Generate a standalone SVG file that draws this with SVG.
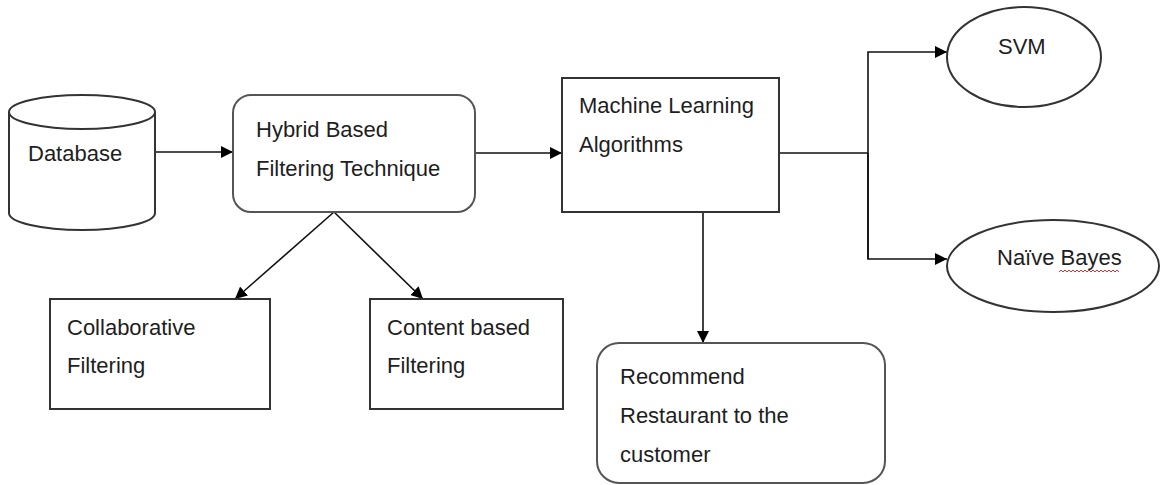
<svg xmlns="http://www.w3.org/2000/svg" width="1162" height="485" viewBox="0 0 1162 485">
<style>
.t{font-family:"Liberation Sans",Arial,sans-serif;font-size:22px;fill:#1e1e1e}
.sh{fill:#fff;stroke:#333;stroke-width:2}
.rr{fill:#fff;stroke:#555;stroke-width:2}
.c{fill:none;stroke:#111;stroke-width:1.6}
</style>
<defs>
<marker id="ah" viewBox="0 0 12 12" refX="12" refY="6" markerWidth="12" markerHeight="12" markerUnits="userSpaceOnUse" orient="auto">
<path d="M0,0 L12,6 L0,12 z" fill="#000"/>
</marker>
</defs>
<rect width="1162" height="485" fill="#fff"/>
<g id="connectors">
<line class="c" x1="155" y1="152" x2="233" y2="152" marker-end="url(#ah)"/>
<line class="c" x1="475" y1="153" x2="562" y2="153" marker-end="url(#ah)"/>
<line class="c" x1="334" y1="212" x2="235" y2="299" marker-end="url(#ah)"/>
<line class="c" x1="334" y1="212" x2="423" y2="299" marker-end="url(#ah)"/>
<line class="c" x1="703" y1="212" x2="703" y2="343" marker-end="url(#ah)"/>
<polyline class="c" points="779,153 868,153"/>
<polyline class="c" points="868,259 868,52 947,52" marker-end="url(#ah)"/>
<polyline class="c" points="868,153 868,259 947,259" marker-end="url(#ah)"/>
</g>
<g id="database">
<path class="sh" d="M9,112 L9,213 A73,17 0 0 0 155,213 L155,112"/>
<ellipse class="sh" cx="82" cy="112" rx="73" ry="17"/>
<text class="t" x="28" y="161">Database</text>
</g>
<g id="hybrid">
<rect class="rr" x="233" y="95" width="242" height="117" rx="18"/>
<text class="t" x="256" y="137">Hybrid Based</text>
<text class="t" x="256" y="176">Filtering Technique</text>
</g>
<g id="ml">
<rect class="sh" x="562" y="78" width="217" height="134"/>
<text class="t" x="579" y="113">Machine Learning</text>
<text class="t" x="579" y="152">Algorithms</text>
</g>
<g id="collaborative">
<rect class="sh" x="50" y="299" width="220" height="110"/>
<text class="t" x="67" y="335">Collaborative</text>
<text class="t" x="67" y="373">Filtering</text>
</g>
<g id="content">
<rect class="sh" x="370" y="299" width="193" height="110"/>
<text class="t" x="387" y="335">Content based</text>
<text class="t" x="387" y="373">Filtering</text>
</g>
<g id="recommend">
<rect class="rr" x="597" y="343" width="288" height="140" rx="22"/>
<text class="t" x="620" y="384">Recommend</text>
<text class="t" x="620" y="423">Restaurant to the</text>
<text class="t" x="620" y="462">customer</text>
</g>
<g id="svm">
<ellipse class="sh" cx="1024" cy="57" rx="77" ry="50"/>
<text class="t" x="998" y="54">SVM</text>
</g>
<g id="naivebayes">
<ellipse class="sh" cx="1053" cy="266" rx="106" ry="46"/>
<text class="t" x="997" y="265">Naïve Bayes</text>
<path d="M1059,272 l2,-2 l2,2 l2,-2 l2,2 l2,-2 l2,2 l2,-2 l2,2 l2,-2 l2,2 l2,-2 l2,2 l2,-2 l2,2 l2,-2 l2,2 l2,-2 l2,2 l2,-2 l2,2 l2,-2 l2,2 l2,-2 l2,2 l2,-2 l2,2 l2,-2 l2,2 l2,-2 l2,2" fill="none" stroke="#e03030" stroke-width="1"/>
</g>
</svg>
